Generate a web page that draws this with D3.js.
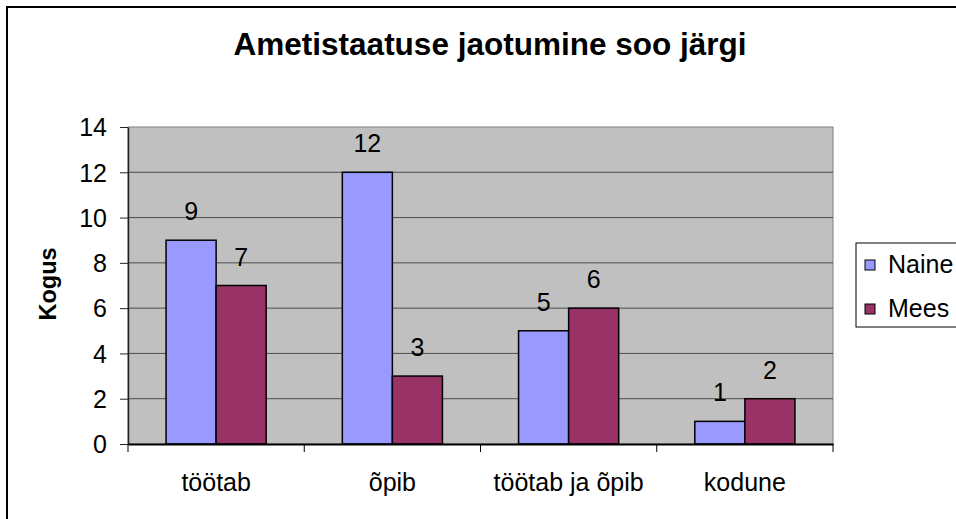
<!DOCTYPE html>
<html>
<head>
<meta charset="utf-8">
<script src="https://cdnjs.cloudflare.com/ajax/libs/d3/7.8.5/d3.min.js"></script>
<style>
  body { margin: 0; background: #fff; }
  text { font-family: Arial, "Liberation Sans", sans-serif; }
</style>
</head>
<body>
<div id="chart"></div>
<script>
// data
var categories = ["töötab", "õpib", "töötab ja õpib", "kodune"];
var seriesNames = ["Naine", "Mees"];
var naine = [9, 12, 5, 1];
var mees = [7, 3, 6, 2];
var yTicks = [0, 2, 4, 6, 8, 10, 12, 14];
var colors = ["#9999FF", "#993366"];

var W = 956, H = 519;
var plot = {left: 128, right: 833, top: 127, bottom: 444};
var labelSize = 25;

var svg = d3.select("#chart").append("svg")
    .attr("width", W)
    .attr("height", H);

// outer chart border (cropped on the right and bottom)
svg.append("rect")
    .attr("x", 7).attr("y", 7)
    .attr("width", 980).attr("height", 540)
    .attr("fill", "#fff")
    .attr("stroke", "#000")
    .attr("stroke-width", 2);

// title
svg.append("text")
    .attr("x", 490).attr("y", 55)
    .attr("text-anchor", "middle")
    .attr("font-size", 31.5)
    .attr("font-weight", "bold")
    .text("Ametistaatuse jaotumine soo järgi");

// scales
var x = d3.scaleBand()
    .domain(categories)
    .range([plot.left, plot.right])
    .paddingInner(0.432)
    .paddingOuter(0.216);

var xs = d3.scaleBand()
    .domain(seriesNames)
    .range([0, x.bandwidth()]);

var y = d3.scaleLinear()
    .domain([0, 14])
    .range([plot.bottom, plot.top]);

// plot area
svg.append("rect")
    .attr("x", plot.left).attr("y", plot.top)
    .attr("width", plot.right - plot.left)
    .attr("height", plot.bottom - plot.top)
    .attr("fill", "#C0C0C0")
    .attr("stroke", "#808080")
    .attr("stroke-width", 1);

// gridlines
svg.append("g")
    .selectAll("line")
    .data(yTicks.filter(function(d) { return d > 0 && d < 14; }))
    .enter().append("line")
    .attr("x1", plot.left).attr("x2", plot.right)
    .attr("y1", function(d) { return y(d); })
    .attr("y2", function(d) { return y(d); })
    .attr("stroke", "#4d4d4d")
    .attr("stroke-width", 1);

// y axis
var yAxis = svg.append("g")
    .attr("transform", "translate(" + plot.left + ",0)")
    .call(d3.axisLeft(y).tickValues(yTicks).tickSize(8).tickPadding(13).tickSizeOuter(0));
yAxis.select(".domain").attr("stroke", "#222").attr("stroke-width", 1.5);
yAxis.selectAll(".tick line").attr("stroke", "#222");
yAxis.selectAll(".tick text")
    .attr("font-size", labelSize)
    .attr("fill", "#000")
    .attr("dy", "0.35em")
    .attr("font-family", "Arial, 'Liberation Sans', sans-serif");

// y axis title
svg.append("text")
    .attr("transform", "translate(56,284) rotate(-90)")
    .attr("text-anchor", "middle")
    .attr("font-size", 23.5)
    .attr("font-weight", "bold")
    .text("Kogus");

// bars
var rows = categories.map(function(c, i) {
    return {cat: c, values: [naine[i], mees[i]]};
});

var groups = svg.append("g").selectAll("g")
    .data(rows)
    .enter().append("g")
    .attr("transform", function(d) { return "translate(" + x(d.cat) + ",0)"; });

groups.selectAll("rect")
    .data(function(d) { return d.values.map(function(v, j) { return {name: seriesNames[j], v: v, j: j}; }); })
    .enter().append("rect")
    .attr("x", function(d) { return xs(d.name); })
    .attr("y", function(d) { return y(d.v); })
    .attr("width", xs.bandwidth())
    .attr("height", function(d) { return y(0) - y(d.v); })
    .attr("fill", function(d) { return colors[d.j]; })
    .attr("stroke", "#000")
    .attr("stroke-width", 1.5);

groups.selectAll("text.val")
    .data(function(d) { return d.values.map(function(v, j) { return {name: seriesNames[j], v: v}; }); })
    .enter().append("text")
    .attr("class", "val")
    .attr("x", function(d) { return xs(d.name) + xs.bandwidth() / 2; })
    .attr("y", function(d) { return y(d.v) - 20; })
    .attr("text-anchor", "middle")
    .attr("font-size", labelSize)
    .text(function(d) { return d.v; });

// x axis
var xAxis = svg.append("g")
    .attr("transform", "translate(0," + plot.bottom + ")")
    .call(d3.axisBottom(x).tickSize(0).tickSizeOuter(0));
xAxis.select(".domain").attr("stroke", "#000").attr("stroke-width", 2);
xAxis.selectAll(".tick text")
    .attr("y", 47)
    .attr("dy", 0)
    .attr("font-size", labelSize)
    .attr("fill", "#000")
    .attr("font-family", "Arial, 'Liberation Sans', sans-serif");

// category separators on x axis
var sepX = categories.map(function(c) { return x(c) - x.step() * x.paddingOuter(); });
sepX.push(plot.right);
svg.append("g").selectAll("line")
    .data(sepX)
    .enter().append("line")
    .attr("x1", function(d) { return d; })
    .attr("x2", function(d) { return d; })
    .attr("y1", plot.bottom)
    .attr("y2", plot.bottom + 8)
    .attr("stroke", "#000");

// legend
var legend = svg.append("g");
legend.append("rect")
    .attr("x", 856).attr("y", 243)
    .attr("width", 120).attr("height", 84)
    .attr("fill", "#fff")
    .attr("stroke", "#000")
    .attr("stroke-width", 1);

var items = legend.selectAll("g.item")
    .data(seriesNames)
    .enter().append("g")
    .attr("class", "item")
    .attr("transform", function(d, i) { return "translate(865," + (265 + i * 44) + ")"; });

items.append("rect")
    .attr("x", 0).attr("y", -5)
    .attr("width", 10).attr("height", 10)
    .attr("fill", function(d, i) { return colors[i]; })
    .attr("stroke", "#000")
    .attr("stroke-width", 1);

items.append("text")
    .attr("x", 23).attr("y", 8)
    .attr("font-size", labelSize)
    .text(function(d) { return d; });
</script>
</body>
</html>
